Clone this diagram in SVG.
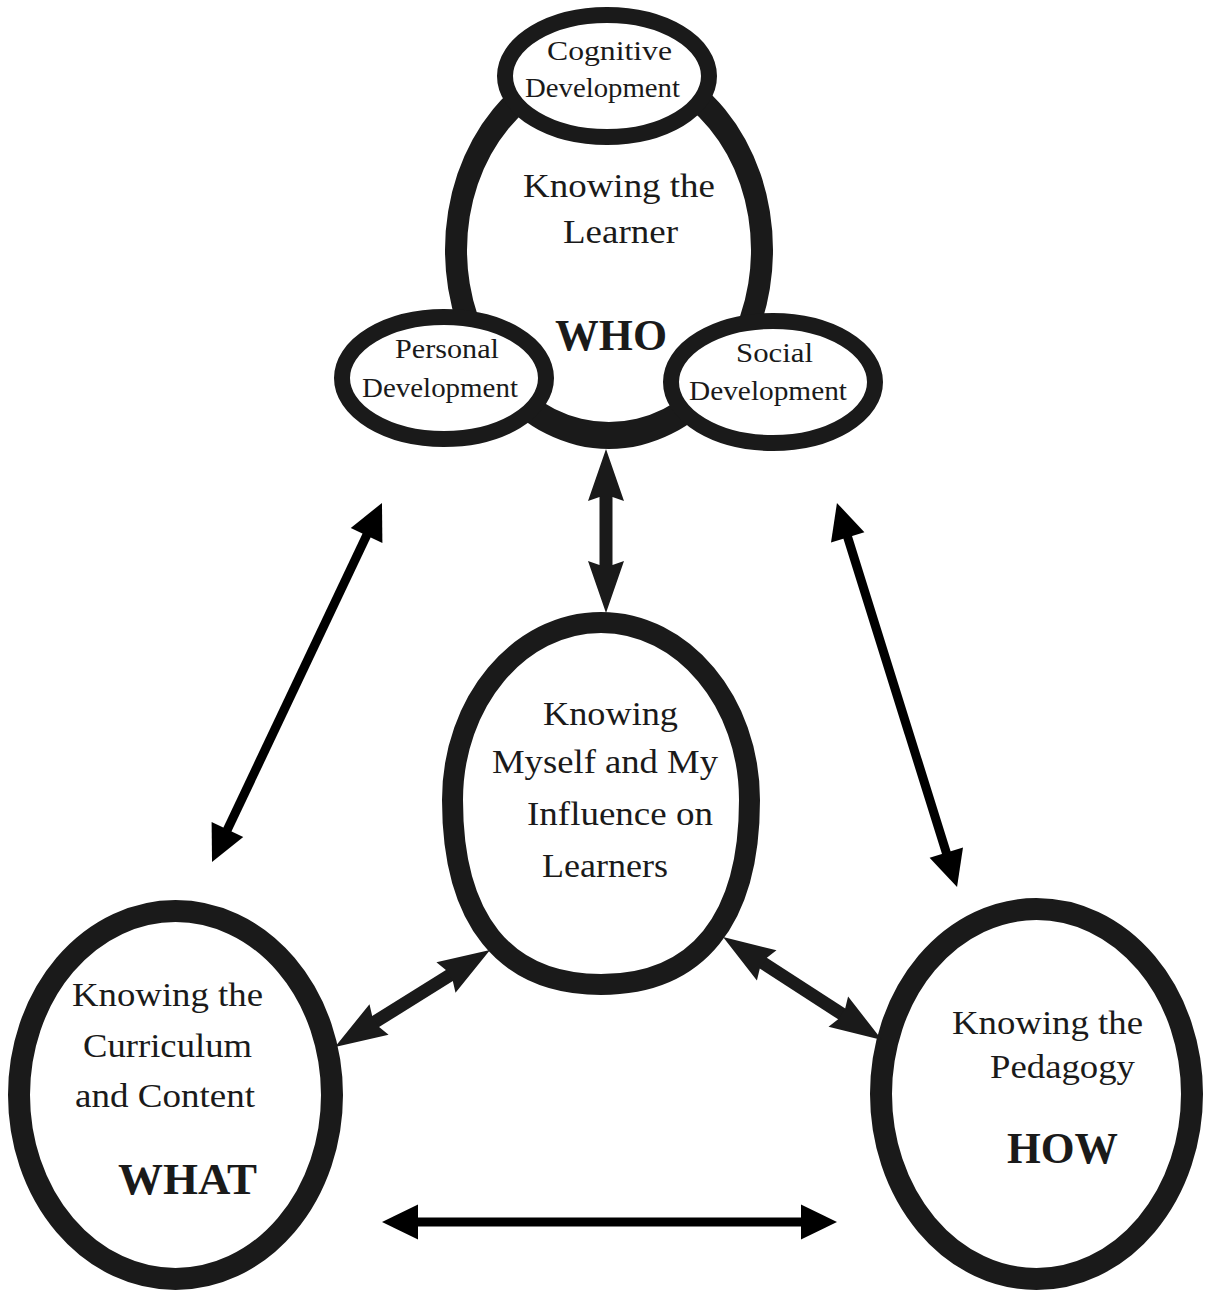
<svg xmlns="http://www.w3.org/2000/svg" width="1206" height="1290" viewBox="0 0 1206 1290">
<defs>
<style>
.ring{fill:#fff;stroke:#1a1a1a}
text{font-family:'Liberation Serif','Times New Roman',serif;fill:#1a1a1a}
.s{font-size:28px}
.m{font-size:34px}
.b{font-size:45px;font-weight:bold}
.thin{stroke:#000;stroke-width:9;fill:none}
.thick{stroke:#1a1a1a;stroke-width:13;fill:none}
</style>
<marker id="tri" viewBox="-2 -19 39 38" markerWidth="39" markerHeight="38" refX="0" refY="0" markerUnits="userSpaceOnUse" orient="auto-start-reverse">
<path d="M35,0 L-1,-17.5 L-1,17.5 Z" fill="#000"/>
</marker>
<marker id="barb" viewBox="-7 -20 56 40" markerWidth="56" markerHeight="40" refX="0" refY="0" markerUnits="userSpaceOnUse" orient="auto-start-reverse">
<path d="M47,0 L-5,-18 L-1,-6.5 L-1,6.5 L-5,18 Z" fill="#1a1a1a"/>
</marker>
</defs>
<rect width="1206" height="1290" fill="#fff"/>

<g id="learner" font-family="'Liberation Serif','Times New Roman',serif">
<path fill="#1a1a1a" fill-rule="evenodd" d="M445,250 A164,199 0 1 0 773,250 A164,199 0 1 0 445,250 Z M467,250 A142,172 0 1 0 751,250 A142,172 0 1 0 467,250 Z"/>
<text class="m" font-family="Liberation Serif" x="523" y="197" textLength="192" lengthAdjust="spacingAndGlyphs">Knowing the</text>
<text class="m" font-family="Liberation Serif" x="563" y="243" textLength="115" lengthAdjust="spacingAndGlyphs">Learner</text>
<text class="b" font-family="Liberation Serif" x="555" y="350" textLength="112" lengthAdjust="spacingAndGlyphs">WHO</text>
</g>

<g id="cognitive">
<ellipse class="ring" cx="607" cy="76" rx="102" ry="61" stroke-width="16"/>
<text class="s" font-family="Liberation Serif" x="547" y="60" textLength="125" lengthAdjust="spacingAndGlyphs">Cognitive</text>
<text class="s" font-family="Liberation Serif" x="525" y="97" textLength="155" lengthAdjust="spacingAndGlyphs">Development</text>
</g>

<g id="personal">
<ellipse class="ring" cx="444" cy="378" rx="102" ry="61" stroke-width="16"/>
<text class="s" font-family="Liberation Serif" x="395" y="358" textLength="104" lengthAdjust="spacingAndGlyphs">Personal</text>
<text class="s" font-family="Liberation Serif" x="362" y="397" textLength="156" lengthAdjust="spacingAndGlyphs">Development</text>
</g>

<g id="social">
<ellipse class="ring" cx="773" cy="382" rx="102" ry="61" stroke-width="16"/>
<text class="s" font-family="Liberation Serif" x="736" y="362" textLength="77" lengthAdjust="spacingAndGlyphs">Social</text>
<text class="s" font-family="Liberation Serif" x="689" y="400" textLength="158" lengthAdjust="spacingAndGlyphs">Development</text>
</g>

<g id="myself">
<path class="ring" stroke-width="21" d="M452.5,800 C452.5,702 519,622.5 601,622.5 C683,622.5 749.5,702 749.5,800 C749.5,920 697.5,984.5 601,984.5 C504.5,984.5 452.5,920 452.5,800 Z"/>
<text class="m" font-family="Liberation Serif" x="543" y="725" textLength="135" lengthAdjust="spacingAndGlyphs">Knowing</text>
<text class="m" font-family="Liberation Serif" x="492" y="773" textLength="226" lengthAdjust="spacingAndGlyphs">Myself and My</text>
<text class="m" font-family="Liberation Serif" x="527" y="825" textLength="186" lengthAdjust="spacingAndGlyphs">Influence on</text>
<text class="m" font-family="Liberation Serif" x="542" y="877" textLength="126" lengthAdjust="spacingAndGlyphs">Learners</text>
</g>

<g id="curriculum">
<ellipse class="ring" cx="175.5" cy="1095" rx="156.5" ry="184" stroke-width="22"/>
<text class="m" font-family="Liberation Serif" x="72" y="1006" textLength="191" lengthAdjust="spacingAndGlyphs">Knowing the</text>
<text class="m" font-family="Liberation Serif" x="83" y="1057" textLength="169" lengthAdjust="spacingAndGlyphs">Curriculum</text>
<text class="m" font-family="Liberation Serif" x="75" y="1107" textLength="180" lengthAdjust="spacingAndGlyphs">and Content</text>
<text class="b" font-family="Liberation Serif" x="118" y="1194" textLength="139" lengthAdjust="spacingAndGlyphs" style="font-size:44px">WHAT</text>
</g>

<g id="pedagogy">
<ellipse class="ring" cx="1036.5" cy="1094" rx="155.5" ry="185" stroke-width="22"/>
<text class="m" font-family="Liberation Serif" x="952" y="1034" textLength="191" lengthAdjust="spacingAndGlyphs">Knowing the</text>
<text class="m" font-family="Liberation Serif" x="990" y="1078" textLength="145" lengthAdjust="spacingAndGlyphs">Pedagogy</text>
<text class="b" font-family="Liberation Serif" x="1007" y="1163" textLength="111" lengthAdjust="spacingAndGlyphs" style="font-size:44px">HOW</text>
</g>

<g id="connectors">
<line class="thin" x1="227" y1="830.4" x2="367" y2="534.6" marker-start="url(#tri)" marker-end="url(#tri)"/>
<line class="thin" x1="847.4" y1="536.4" x2="946.6" y2="853.6" marker-start="url(#tri)" marker-end="url(#tri)"/>
<line class="thin" x1="417" y1="1222" x2="802" y2="1222" marker-start="url(#tri)" marker-end="url(#tri)"/>
<line class="thick" x1="606" y1="496" x2="606" y2="566" marker-start="url(#barb)" marker-end="url(#barb)"/>
<line class="thick" x1="374.8" y1="1022.1" x2="450.2" y2="974.9" marker-start="url(#barb)" marker-end="url(#barb)"/>
<line class="thick" x1="762.5" y1="962.6" x2="842.5" y2="1014.4" marker-start="url(#barb)" marker-end="url(#barb)"/>
</g>
</svg>
